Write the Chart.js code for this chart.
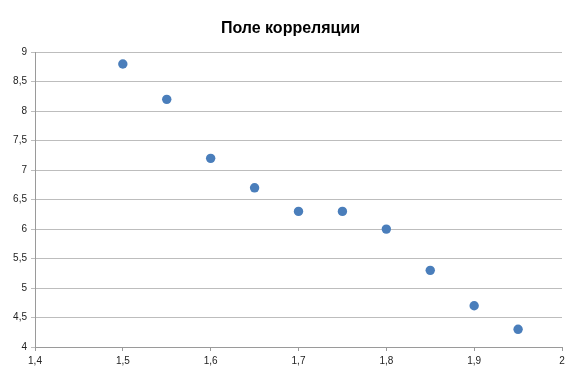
<!DOCTYPE html>
<html><head><meta charset="utf-8">
<script src="https://cdn.jsdelivr.net/npm/chart.js@4/dist/chart.umd.min.js"></script>
<style>html,body{margin:0;padding:0;background:#fff}</style>
</head><body>
<canvas id="c" width="581" height="375"></canvas>
<script>
const titleText = "Поле корреляции";
const xValues = [1.5, 1.55, 1.6, 1.65, 1.7, 1.75, 1.8, 1.85, 1.9, 1.95];
const yValues = [8.8, 8.2, 7.2, 6.7, 6.3, 6.3, 6.0, 5.3, 4.7, 4.3];
const xTicks = {min: 1.4, max: 2, step: 0.1};
const yTicks = {min: 4, max: 9, step: 0.5};

const fmt = v => String(parseFloat(Number(v).toFixed(2))).replace('.', ',');
const points = xValues.map((x, i) => ({x: x, y: yValues[i]}));

// center the title on the whole canvas width
const centerTitle = {
  id: 'centerTitle',
  afterLayout(chart) {
    const t = chart.titleBlock;
    if (t) { t.left = 0; t.right = chart.width; t.width = chart.width; }
  }
};

new Chart(document.getElementById('c'), {
  type: 'scatter',
  data: {datasets: [{
    data: points,
    backgroundColor: '#4A7EBB',
    borderColor: '#4A7EBB',
    borderWidth: 0,
    pointRadius: 4.7,
    pointHoverRadius: 4.7
  }]},
  options: {
    responsive: false,
    animation: false,
    layout: {padding: {left: 0, right: 19, top: 0, bottom: 0}},
    plugins: {
      legend: {display: false},
      tooltip: {enabled: false},
      title: {display: true, text: titleText, color: '#000',
        font: {family: 'Liberation Sans', size: 16, weight: 'bold'},
        padding: {top: 19, bottom: 14}}
    },
    scales: {
      x: {
        type: 'linear', min: xTicks.min, max: xTicks.max,
        afterFit: s => { s.height = 28; },
        ticks: {stepSize: xTicks.step, callback: v => fmt(v), color: '#222',
          font: {family: 'Liberation Sans', size: 10}, padding: 4, maxRotation: 0},
        grid: {drawOnChartArea: false, drawTicks: true, tickLength: 4, color: '#9A9A9A'},
        border: {color: '#9A9A9A', width: 1}
      },
      y: {
        type: 'linear', min: yTicks.min, max: yTicks.max,
        afterFit: s => { s.width = 35; },
        ticks: {stepSize: yTicks.step, callback: v => fmt(v), color: '#222',
          font: {family: 'Liberation Sans', size: 10}, padding: 4},
        grid: {color: '#BDBDBD', lineWidth: 1, tickLength: 4},
        border: {color: '#9A9A9A', width: 1}
      }
    }
  },
  plugins: [centerTitle]
});
</script>
</body></html>
